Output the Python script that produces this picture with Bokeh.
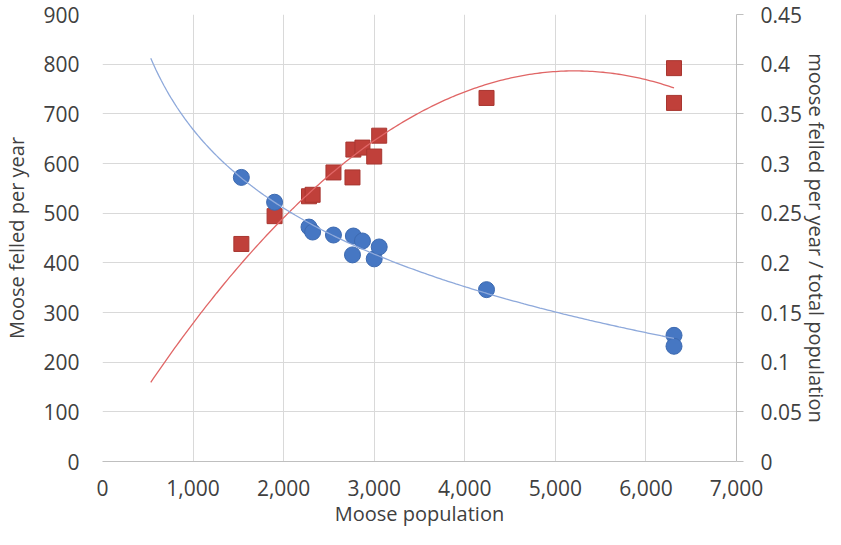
import numpy as np
from bokeh.plotting import figure
from bokeh.models import (Range1d, LinearAxis, FixedTicker, NumeralTickFormatter,
                          CustomJSTickFormatter)
from bokeh.embed import file_html
from bokeh.resources import INLINE

# ---- data ----
population = [1533, 1900, 2280, 2320, 2550, 2760, 2770, 2870, 3000, 3055, 4240, 6310, 6310]
felled = [438, 494, 534, 537, 582, 572, 628, 632, 614, 656, 732, 792, 722]
ratio = [0.286, 0.261, 0.236, 0.231, 0.228, 0.208, 0.227, 0.222, 0.204, 0.216, 0.173, 0.127, 0.116]

red_trend_x = [537, 1000, 1528, 2000, 2183, 3100, 3724, 4240, 5005, 5240, 5914, 6310]
red_trend_y = [155, 279, 406, 493, 521, 660, 720, 756, 784, 788, 772, 754]

x_ticks = [0, 1000, 2000, 3000, 4000, 5000, 6000, 7000]
left_ticks = [0, 100, 200, 300, 400, 500, 600, 700, 800, 900]
right_ticks = [0, 0.05, 0.1, 0.15, 0.2, 0.25, 0.3, 0.35, 0.4, 0.45]

x_title = "Moose population"
left_title = "Moose felled per year"
right_title = "moose felled per year / total population"

# ---- trendlines (Excel-style, 1000 backward forecast) ----
xp = np.array(population, float)
tx = np.linspace(xp.min() - 1000, xp.max(), 200)
c_red = np.polyfit(np.array(red_trend_x, float), np.array(red_trend_y, float), 2)
red_trend = np.polyval(c_red, tx)
c_blue = np.polyfit(np.log(xp), np.array(ratio, float), 1)
blue_trend = c_blue[0] * np.log(tx) + c_blue[1]

FONT = "Open Sans"
TXT = "#404040"
GRID = "#D9D9D9"
AX = "#BFBFBF"

W, H = 833, 529
BL, BR, BT, BB = 100, 94, 14, 68

p = figure(width=W, height=H, output_backend="svg", toolbar_location=None,
           x_range=Range1d(0, 7000), y_range=Range1d(0, 900),
           min_border_left=BL, min_border_right=BR, min_border_top=BT, min_border_bottom=BB)
p.extra_y_ranges = {"right": Range1d(0, 0.45)}
p.outline_line_color = None
p.background_fill_color = "white"
p.border_fill_color = "white"

# grids
p.xgrid.ticker = FixedTicker(ticks=x_ticks)
p.ygrid.ticker = FixedTicker(ticks=left_ticks)
for g in (p.xgrid, p.ygrid):
    g.grid_line_color = GRID
    g.grid_line_width = 1

# x axis
xa = p.xaxis[0]
xa.ticker = FixedTicker(ticks=x_ticks)
xa.formatter = NumeralTickFormatter(format="0,0")
xa.axis_line_color = AX
xa.major_tick_line_color = None
xa.major_tick_out = 0
xa.major_tick_in = 0
xa.minor_tick_line_color = None
xa.minor_tick_out = 0
xa.major_label_standoff = 18
xa.axis_label = x_title
xa.axis_label_standoff = 1

# left axis
ya = p.yaxis[0]
ya.ticker = FixedTicker(ticks=left_ticks)
ya.axis_line_color = None
ya.major_tick_line_color = None
ya.major_tick_out = 0
ya.major_tick_in = 0
ya.minor_tick_line_color = None
ya.minor_tick_out = 0
ya.major_label_standoff = 23
ya.axis_label = left_title
ya.axis_label_standoff = 10

# right axis
ra = LinearAxis(y_range_name="right", ticker=FixedTicker(ticks=right_ticks))
ra.formatter = CustomJSTickFormatter(code="return String(Number(tick.toFixed(2)));")
ra.axis_line_color = AX
ra.major_tick_line_color = AX
ra.major_tick_out = 7
ra.major_tick_in = 0
ra.minor_tick_line_color = None
ra.minor_tick_out = 0
ra.major_label_standoff = 17
ra.axis_label = right_title
ra.axis_label_standoff = -2
p.add_layout(ra, "right")

for ax in (xa, ya, ra):
    ax.major_label_text_font = FONT
    ax.major_label_text_font_size = "21px"
    ax.major_label_text_color = TXT
    ax.axis_label_text_font = FONT
    ax.axis_label_text_font_size = "20px"
    ax.axis_label_text_font_style = "normal"
    ax.axis_label_text_color = TXT

# markers
p.scatter(population, felled, marker="square", size=15,
          fill_color="#C0403A", line_color="#A83630", line_width=1)
p.scatter(population, ratio, marker="circle", size=16, y_range_name="right",
          fill_color="#4677C3", line_color="#3D6AB0", line_width=1)

# trendlines
p.line(tx, red_trend, line_color="#E06666", line_width=1.3)
p.line(tx, blue_trend, line_color="#8EA9DB", line_width=1.3, y_range_name="right")

open("out.html", "w").write(file_html(p, INLINE))
